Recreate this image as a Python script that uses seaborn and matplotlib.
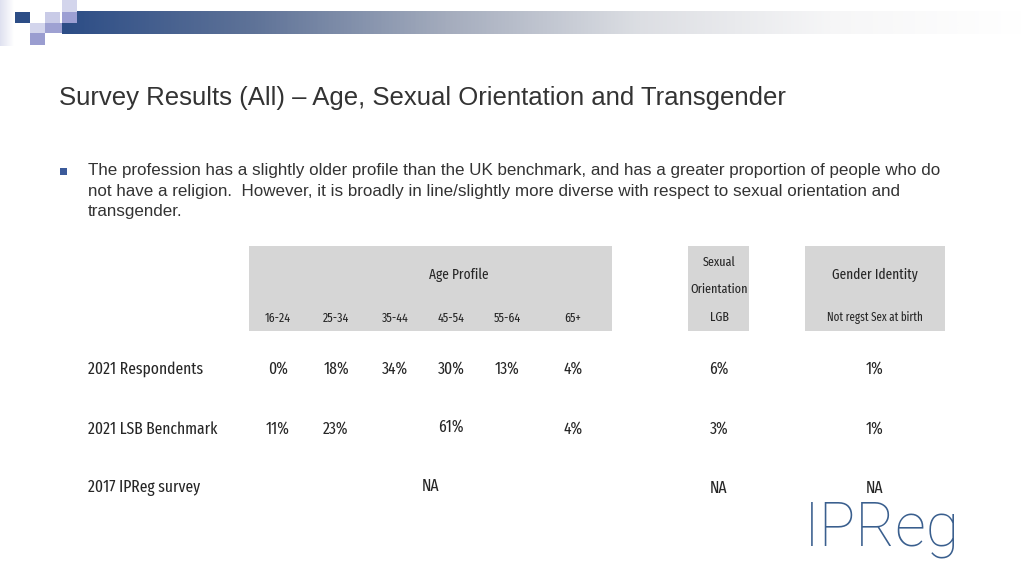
import numpy as np
import matplotlib
matplotlib.use("Agg")
import matplotlib.pyplot as plt
from matplotlib.patches import Rectangle
from matplotlib import font_manager as fm
import seaborn as sns

# ---------------- data ----------------
title = "Survey Results (All) \u2013 Age, Sexual Orientation and Transgender"
bullet_lines = [
    "The profession has a slightly older profile than the UK benchmark, and has a greater proportion of people who do",
    "not have a religion.  However, it is broadly in line/slightly more diverse with respect to sexual orientation and",
    "transgender.",
]
age_groups = ["16-24", "25-34", "35-44", "45-54", "55-64", "65+"]
row_labels = ["2021 Respondents", "2021 LSB Benchmark", "2017 IPReg survey"]
respondents_age = [0, 18, 34, 30, 13, 4]
lsb_age_single = {"16-24": 11, "25-34": 23, "65+": 4}
lsb_age_merged = 61          # 35-44 .. 55-64 combined
lgb_values = [6, 3, None]
gender_values = [1, 1, None]

# ---------------- style ----------------
sns.set_theme(style="white")
names = {f.name for f in fm.fontManager.ttflist}
SANS = [n for n in ["Liberation Sans", "Arimo"] if n in names] + ["DejaVu Sans"]
NARROW = [n for n in ["Fira Sans Extra Condensed", "Barlow Condensed", "Sofia Sans Extra Condensed",
                      "Roboto Condensed", "IBM Plex Sans Condensed"] if n in names][:1] + SANS
LOGO = [n for n in ["Roboto", "Lato"] if n in names][:1] + ["DejaVu Sans"]
plt.rcParams["font.family"] = SANS
TXT = "#262626"

fig = plt.figure(figsize=(10.24, 5.76), dpi=100)
ax = fig.add_axes([0, 0, 1, 1])
ax.set_xlim(0, 1024)
ax.set_ylim(576, 0)
ax.axis("off")
renderer = fig.canvas.get_renderer()


def fit(text, family, width, weight="normal"):
    t = ax.text(0, 0, text, fontsize=20, family=family, fontweight=weight)
    w = t.get_window_extent(renderer).width
    t.remove()
    return 20 * width / w


# banner gradient
grad = np.linspace(0, 1, 512)[None, :]
cmap = matplotlib.colors.LinearSegmentedColormap.from_list(
    "b", ["#2c4d86", "#5f7398", "#a4acbd", "#dcdee3", "#f6f6f7", "#ffffff"])
ax.imshow(grad, extent=[62, 1024, 34, 11], cmap=cmap, aspect="auto", zorder=1)
edge = np.linspace(0, 1, 64)[None, :]
ecmap = matplotlib.colors.LinearSegmentedColormap.from_list("e", ["#dfe1f0", "#ffffff"])
ax.imshow(edge, extent=[0, 14, 46, 0], cmap=ecmap, aspect="auto", zorder=1)
squares = [
    (15, 12, 15, 11, "#2c4d86"),
    (45, 12, 15, 11, "#c9cbe7"),
    (62, 0, 15, 12, "#d3d5ec"),
    (62, 12, 15, 11, "#9c9fd3"),
    (30, 23, 15, 10, "#d3d5ec"),
    (45, 23, 17, 10, "#9ea1d2"),
    (30, 33, 15, 12, "#9a9dd0"),
]
for x, y, w, h, c in squares:
    ax.add_patch(Rectangle((x, y), w, h, color=c, lw=0, zorder=2))

# title
ax.text(59, 98, title, fontsize=fit(title, SANS, 725), color="#333333", va="center", ha="left")

# bullet
ax.add_patch(Rectangle((60, 168), 7, 7, color="#3b5a9a", lw=0))
bfs = fit(bullet_lines[0], SANS, 852)
for i, line in enumerate(bullet_lines):
    ax.text(88, 171 + i * 20.3, line, fontsize=bfs, color="#333333", va="center", ha="left")

# header boxes
GRAY = "#d6d6d6"
ax.add_patch(Rectangle((249, 246), 363, 85, color=GRAY, lw=0))
ax.add_patch(Rectangle((688, 246), 61, 85, color=GRAY, lw=0))
ax.add_patch(Rectangle((805, 246), 140, 85, color=GRAY, lw=0))

age_x = [278, 336, 395, 451, 507, 573]
lgb_x = 719
gen_x = 875

K = 1.12
hfs = fit("Age Profile", NARROW, 53) * K
ofs = min(hfs, fit("Orientation", NARROW, 57))
sfs = fit("Not regst Sex at birth", NARROW, 91) * 1.05
fs = fit("2021 Respondents", NARROW, 103) * K

ax.text(459, 275, "Age Profile", fontsize=hfs, family=NARROW, color=TXT, ha="center", va="center")
for x, g in zip(age_x, age_groups):
    ax.text(x, 318, g, fontsize=sfs * 1.08, family=NARROW, color=TXT, ha="center", va="center")
ax.text(lgb_x, 262, "Sexual", fontsize=ofs, family=NARROW, color=TXT, ha="center", va="center")
ax.text(lgb_x, 289, "Orientation", fontsize=ofs, family=NARROW, color=TXT, ha="center", va="center")
ax.text(lgb_x, 317, "LGB", fontsize=ofs, family=NARROW, color=TXT, ha="center", va="center")
ax.text(gen_x, 275, "Gender Identity", fontsize=hfs, family=NARROW, color=TXT, ha="center", va="center")
ax.text(gen_x, 318, "Not regst Sex at birth", fontsize=sfs, family=NARROW, color=TXT, ha="center", va="center")

# body rows
row_y = [369, 429, 488]
for y, lab in zip(row_y, row_labels):
    ax.text(88, y, lab, fontsize=fs, family=NARROW, color=TXT, ha="left", va="center")

for x, v in zip(age_x, respondents_age):
    ax.text(x, row_y[0], f"{v}%", fontsize=fs, family=NARROW, color=TXT, ha="center", va="center")
for x, g in zip(age_x, age_groups):
    if g in lsb_age_single:
        ax.text(x, row_y[1], f"{lsb_age_single[g]}%", fontsize=fs, family=NARROW, color=TXT,
                ha="center", va="center")
ax.text(451, row_y[1] - 2, f"{lsb_age_merged}%", fontsize=fs, family=NARROW, color=TXT,
        ha="center", va="center")
ax.text(431, row_y[2] - 2, "NA", fontsize=fs, family=NARROW, color=TXT, ha="center", va="center")

for y, v in zip(row_y, lgb_values):
    ax.text(lgb_x, y, "NA" if v is None else f"{v}%", fontsize=fs, family=NARROW, color=TXT,
            ha="center", va="center")
for y, v in zip(row_y, gender_values):
    ax.text(gen_x, y, "NA" if v is None else f"{v}%", fontsize=fs, family=NARROW, color=TXT,
            ha="center", va="center")

# logo
lfs = fit("IPReg", LOGO, 156, weight="light")
ax.text(804, 546, "IPReg", fontsize=lfs, family=LOGO, fontweight="light",
        color="#3a5f8e", ha="left", va="baseline")

fig.savefig("out.png", dpi=100)
